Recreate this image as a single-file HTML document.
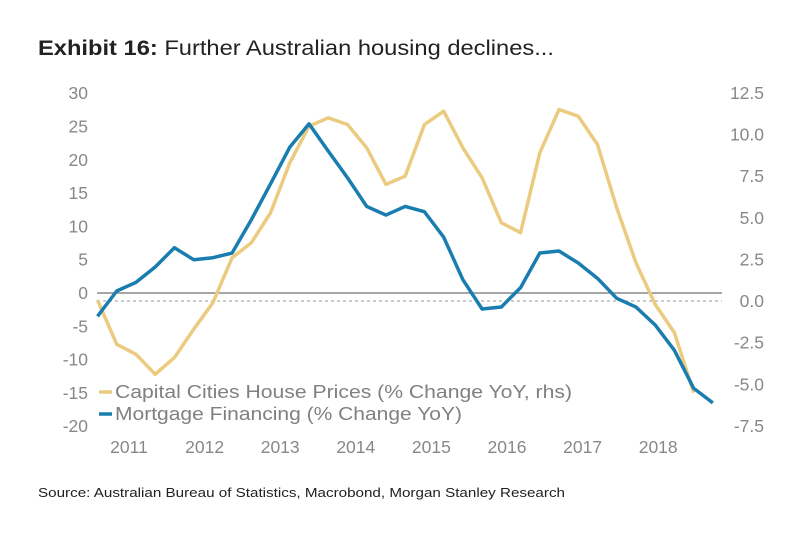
<!DOCTYPE html>
<html><head><meta charset="utf-8"><style>
body{margin:0;background:#fff;width:790px;height:552px;overflow:hidden;font-family:"Liberation Sans",sans-serif}
</style></head><body>
<svg width="790" height="552" xmlns="http://www.w3.org/2000/svg">
<text x="38" y="55" font-size="21" fill="#222" textLength="516" lengthAdjust="spacingAndGlyphs"><tspan font-weight="bold">Exhibit 16:</tspan>  Further Australian housing declines...</text>
<g id="axes"></g>
<g id="series"></g>
<g>
<line x1="99" y1="392" x2="112" y2="392" stroke="#EBCB7F" stroke-width="3.5"/>
<text x="115" y="398" font-size="18" fill="#808080" textLength="457" lengthAdjust="spacingAndGlyphs">Capital Cities House Prices (% Change YoY, rhs)</text>
<line x1="99" y1="414" x2="112" y2="414" stroke="#1A7DB0" stroke-width="3.5"/>
<text x="115" y="420" font-size="18" fill="#808080" textLength="347" lengthAdjust="spacingAndGlyphs">Mortgage Financing (% Change YoY)</text>
</g>
<text x="38" y="497" font-size="13" fill="#222" textLength="527" lengthAdjust="spacingAndGlyphs">Source: Australian Bureau of Statistics, Macrobond, Morgan Stanley Research</text>
</svg>
<script>
const mortgage=[-3.5,0.3,1.6,3.9,6.8,5.0,5.3,6.0,11,16.4,21.9,25.4,21.3,17.3,13.0,11.7,13.0,12.2,8.4,2.0,-2.4,-2.1,0.8,6.0,6.3,4.5,2.2,-0.8,-2.1,-4.8,-8.6,-14.3,-16.5];
const housePrices=[0.06,-2.6,-3.2,-4.4,-3.4,-1.7,-0.1,2.6,3.5,5.3,8.3,10.5,11.0,10.6,9.2,7.0,7.5,10.6,11.4,9.2,7.4,4.7,4.1,8.9,11.5,11.1,9.4,5.6,2.3,-0.2,-1.9,-5.5];
const leftTicks=[30,25,20,15,10,5,0,-5,-10,-15,-20];
const rightTicks=[12.5,10.0,7.5,5.0,2.5,0.0,-2.5,-5.0,-7.5];
const years=["2011","2012","2013","2014","2015","2016","2017","2018"];
const yearPos=[0.5,1.5,2.5,3.5,4.5,5.5,6.5,7.5];
const NS="http://www.w3.org/2000/svg";
const yL=v=>293-v*6.66, yR=v=>301-v*16.65, xQ=i=>97.5+i*19.23, xYear=t=>129+(t-0.5)*75.6;
function mk(tag,attrs,parent,text){const e=document.createElementNS(NS,tag);for(const k in attrs)e.setAttribute(k,attrs[k]);if(text!==undefined)e.textContent=text;parent.appendChild(e);return e;}
const ax=document.getElementById('axes');
leftTicks.forEach(t=>{const e=mk('text',{x:88,y:yL(t)+6,'font-size':17.5,fill:'#888','text-anchor':'end'},ax,String(t));

});
rightTicks.forEach(t=>{const e=mk('text',{x:764,y:yR(t)+6,'font-size':17.5,fill:'#888','text-anchor':'end'},ax,t.toFixed(1));

});
years.forEach((y,i)=>{const e=mk('text',{x:xYear(yearPos[i]),y:453,'font-size':17.5,fill:'#888','text-anchor':'middle'},ax,y);

});
let z=mk('line',{x1:97,x2:722,y1:yL(0),y2:yL(0),stroke:'#888','stroke-width':1.5},ax);


let d=mk('line',{x1:97,x2:722,y1:yR(0),y2:yR(0),stroke:'#999','stroke-width':1,'stroke-dasharray':'3,3'},ax);


const sg=document.getElementById('series');
let p1=mk('polyline',{points:housePrices.map((v,i)=>xQ(i)+','+yR(v)).join(' '),fill:'none',stroke:'#EBCB7F','stroke-width':3.5,'stroke-linejoin':'round'},sg);


let p2=mk('polyline',{points:mortgage.map((v,i)=>xQ(i)+','+yL(v)).join(' '),fill:'none',stroke:'#1A7DB0','stroke-width':3.5,'stroke-linejoin':'round'},sg);


</script>
</body></html>
